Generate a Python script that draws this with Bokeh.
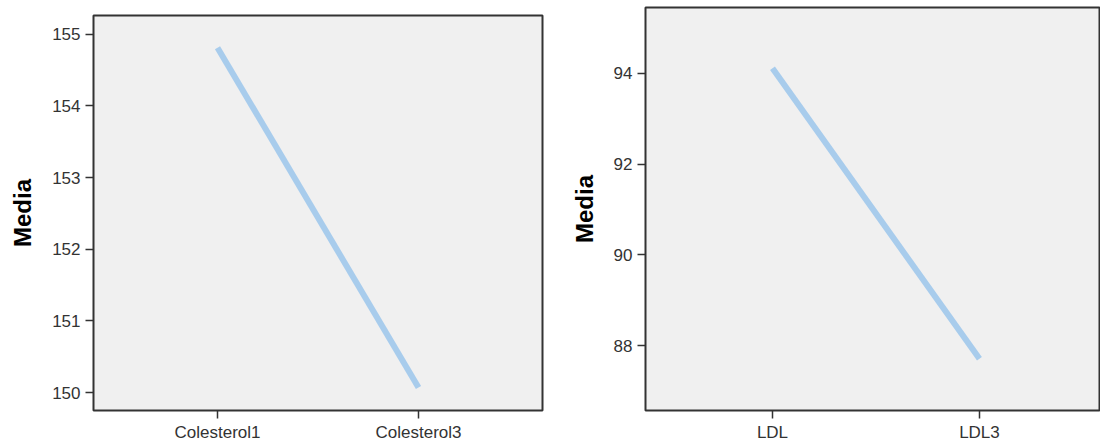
from bokeh.plotting import figure
from bokeh.layouts import row, column
from bokeh.models import Range1d, FixedTicker
from bokeh.embed import file_html
from bokeh.resources import INLINE

# ---- data ----
chol_labels = ["Colesterol1", "Colesterol3"]
chol_means = [154.81, 150.07]
chol_ticks = [150, 151, 152, 153, 154, 155]

ldl_labels = ["LDL", "LDL3"]
ldl_means = [94.11, 87.71]
ldl_ticks = [88, 90, 92, 94]

FONT = "Liberation Sans"
LINE_COLOR = "#a8ccec"
BG = "#f0f0f0"
DARK = "#333333"


def panel(labels, means, yticks, yrange, xrange, width, bl, br, bt, height=444):
    xs = list(range(len(labels)))
    p = figure(width=width, height=height, output_backend="svg", toolbar_location=None,
               title=None,
               x_range=Range1d(*xrange), y_range=Range1d(*yrange),
               min_border_left=bl, min_border_right=br, min_border_top=bt,
               min_border_bottom=height - 411)
    p.background_fill_color = BG
    p.border_fill_color = "white"
    p.outline_line_color = DARK
    p.outline_line_width = 2
    p.grid.visible = False

    p.line(xs, means, line_color=LINE_COLOR, line_width=6, line_cap="butt")

    p.xaxis.ticker = FixedTicker(ticks=xs)
    p.xaxis.major_label_overrides = {i: lab for i, lab in zip(xs, labels)}
    p.yaxis.ticker = FixedTicker(ticks=yticks)

    for ax in (p.xaxis[0], p.yaxis[0]):
        ax.axis_line_color = None
        ax.major_tick_line_color = DARK
        ax.major_tick_line_width = 1.5
        ax.major_tick_out = 8
        ax.major_tick_in = 0
        ax.minor_tick_line_color = None
        ax.major_label_text_font = FONT
        ax.major_label_text_font_size = "17px"
        ax.major_label_text_color = DARK
    p.xaxis.major_label_standoff = 4
    p.yaxis.major_label_standoff = 5

    p.yaxis.axis_label = "Media"
    p.yaxis.axis_label_text_font = FONT
    p.yaxis.axis_label_text_font_size = "24px"
    p.yaxis.axis_label_text_font_style = "bold"
    p.yaxis.axis_label_text_color = "black"
    p.yaxis.axis_label_standoff = 13
    return p


p1 = panel(chol_labels, chol_means, chol_ticks, (149.75, 155.26), (-0.617, 1.617),
           552, 93, 10, 15)
p2 = panel(ldl_labels, ldl_means, ldl_ticks, (86.57, 95.45), (-0.6135, 1.58),
           548, 93, 1, 7)

layout = row(column(p1), column(p2), spacing=0)
open("out.html", "w").write(file_html(layout, INLINE))
